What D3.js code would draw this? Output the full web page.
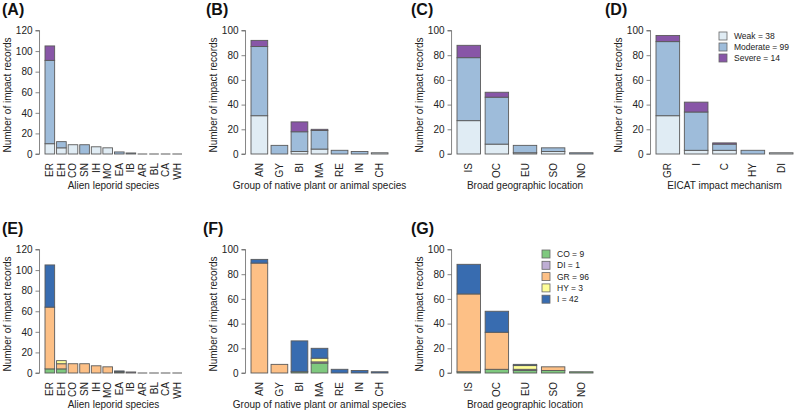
<!DOCTYPE html>
<html><head><meta charset="utf-8">
<script src="https://cdn.jsdelivr.net/npm/d3@7"></script>
<style>
body{margin:0;background:#fff;}
svg{display:block;font-family:"Liberation Sans",Arial,Helvetica,sans-serif;}
</style></head><body>
<svg id="chart" width="795" height="413"></svg>
<script>
// ---- data ----
const sevKeys = ["Weak","Moderate","Severe"];
const sevTotals = [38, 99, 14];
const mechKeys = ["CO","DI","GR","HY","I"];
const mechTotals = [9, 1, 96, 3, 42];

const speciesCats = ["ER","EH","CO","SN","IH","MO","EA","IB","AR","BL","CA","WH"];
const speciesWeak     = [10,6,9,0,7,6,0,0,0,0,0,0];
const speciesModerate = [81,6,0,9,0,0,2,1,0,0,0,0];
const speciesSevere   = [14,0,0,0,0,0,0,0,0,0,0,0];
const speciesCO = [4,4,0,0,0,0,1,0,0,0,0,0];
const speciesDI = [0,0,0,0,0,0,0,1,0,0,0,0];
const speciesGR = [60,5,9,9,7,6,0,0,0,0,0,0];
const speciesHY = [0,3,0,0,0,0,0,0,0,0,0,0];
const speciesI  = [41,0,0,0,0,0,1,0,0,0,0,0];

const groupCats = ["AN","GY","BI","MA","RE","IN","CH"];
const groupWeak     = [31,0,2,4,0,0,1];
const groupModerate = [56,7,16,15,3,2,0];
const groupSevere   = [5,0,8,1,0,0,0];
const groupCO = [0,0,1,8,0,0,0];
const groupDI = [0,0,0,1,0,0,0];
const groupGR = [89,7,0,0,0,0,0];
const groupHY = [0,0,0,3,0,0,0];
const groupI  = [3,0,25,8,3,2,1];

const locCats = ["IS","OC","EU","SO","NO"];
const locWeak     = [27,8,1,2,0];
const locModerate = [51,38,6,3,1];
const locSevere   = [10,4,0,0,0];
const locCO = [1,3,2,2,1];
const locDI = [0,0,1,0,0];
const locGR = [63,30,0,3,0];
const locHY = [0,0,3,0,0];
const locI  = [24,17,1,0,0];

const mechCats = ["GR","I","C","HY","DI"];
const mechWeak     = [31,3,3,0,1];
const mechModerate = [60,31,5,3,0];
const mechSevere   = [5,8,1,0,0];

// ---- styles ----
const sevColors = ["#e0ecf4","#9ebcda","#8856a7"];
const mechColors = ["#7fc97f","#beaed4","#fdc086","#ffff99","#386cb0"];

const svg = d3.select("#chart");

function panel(o){
  const keys = o.keys;
  const rows = o.cats.map((c,i)=>{const r={cat:c}; keys.forEach((k,j)=>r[k]=o.series[j][i]); return r;});
  const x = d3.scaleBand().domain(o.cats).range([o.x0,o.x1]).paddingInner(0.2/1.2).paddingOuter(0);
  const y = d3.scaleLinear().domain([0,o.ymax]).range([o.y0,o.y0-123.5]);
  const axisX = o.x0 - 0.04*(o.x1-o.x0);
  const g = svg.append("g");
  const stack = d3.stack().keys(keys)(rows);
  stack.forEach((layer,li)=>{
    g.selectAll(null).data(layer.filter(d=>d[1]>d[0])).join("rect")
      .attr("x",d=>x(d.data.cat)).attr("width",x.bandwidth())
      .attr("y",d=>y(d[1])).attr("height",d=>y(d[0])-y(d[1]))
      .attr("fill",o.colors[li]).attr("stroke","#5a5a5a").attr("stroke-width",0.9);
  });
  // zero bars drawn as a line
  g.selectAll(null).data(rows.filter(r=>d3.sum(keys,k=>r[k])===0)).join("line")
    .attr("x1",d=>x(d.cat)).attr("x2",d=>x(d.cat)+x.bandwidth())
    .attr("y1",y(0)).attr("y2",y(0)).attr("stroke","#777").attr("stroke-width",1.2);
  // y axis
  const ya = g.append("g").attr("transform",`translate(${axisX},0)`)
    .call(d3.axisLeft(y).tickValues(d3.range(0,o.ymax+1,20)).tickSize(4).tickPadding(3));
  ya.select(".domain").attr("stroke","#666").attr("d",`M-4,${y(0)}H0V${y(o.ymax)}H-4`).attr("stroke-width",0.8);
  ya.selectAll(".tick line").attr("stroke","#666").attr("stroke-width",0.8);
  ya.selectAll("text").attr("font-size",10).attr("fill","#222").attr("font-family","Liberation Sans, Arial, sans-serif");
  // x labels
  g.selectAll(null).data(o.cats).join("text")
    .attr("transform",d=>`translate(${x(d)+x.bandwidth()/2+3.5},${o.y0+9}) rotate(-90)`)
    .attr("text-anchor","end").attr("font-size",10).attr("fill","#222").text(d=>d);
  // titles
  g.append("text").attr("x",(o.x0+o.x1)/2).attr("y",o.y0+35).attr("text-anchor","middle")
    .attr("font-size",10).attr("fill","#222").text(o.xtitle);
  g.append("text").attr("transform",`translate(${axisX-29},${o.y0-59}) rotate(-90)`)
    .attr("text-anchor","middle").attr("font-size",10).attr("fill","#222").text("Number of impact records");
  g.append("text").attr("x",o.lx).attr("y",o.y0-139).attr("font-size",16).attr("font-weight","bold")
    .attr("fill","#111").text(o.label);
  if(o.legend){
    const lg = g.append("g");
    o.legend.labels.forEach((t,i)=>{
      const cy = o.legend.y + i*o.legend.dy;
      lg.append("rect").attr("x",o.legend.x).attr("y",cy-4).attr("width",8).attr("height",8)
        .attr("fill",o.colors[i]).attr("stroke","#666").attr("stroke-width",0.8);
      lg.append("text").attr("x",o.legend.x+15).attr("y",cy).attr("dominant-baseline","central")
        .attr("font-size",8.5).attr("fill","#222").text(t);
    });
  }
}

const sevLegend = sevKeys.map((k,i)=>`${k} = ${sevTotals[i]}`);
const mechLegend = mechKeys.map((k,i)=>`${k} = ${mechTotals[i]}`);

panel({label:"(A)",lx:2,cats:speciesCats,keys:sevKeys,series:[speciesWeak,speciesModerate,speciesSevere],colors:sevColors,x0:45,x1:182,y0:154,ymax:120,xtitle:"Alien leporid species"});
panel({label:"(B)",lx:206,cats:groupCats,keys:sevKeys,series:[groupWeak,groupModerate,groupSevere],colors:sevColors,x0:251,x1:388,y0:154,ymax:100,xtitle:"Group of native plant or animal species"});
panel({label:"(C)",lx:411,cats:locCats,keys:sevKeys,series:[locWeak,locModerate,locSevere],colors:sevColors,x0:457,x1:593,y0:154,ymax:100,xtitle:"Broad geographic location"});
panel({label:"(D)",lx:605,cats:mechCats,keys:sevKeys,series:[mechWeak,mechModerate,mechSevere],colors:sevColors,x0:656,x1:793,y0:154,ymax:100,xtitle:"EICAT impact mechanism",legend:{x:719,y:36,dy:11,labels:sevLegend}});

panel({label:"(E)",lx:2,cats:speciesCats,keys:mechKeys,series:[speciesCO,speciesDI,speciesGR,speciesHY,speciesI],colors:mechColors,x0:45,x1:182,y0:373,ymax:120,xtitle:"Alien leporid species"});
panel({label:"(F)",lx:203,cats:groupCats,keys:mechKeys,series:[groupCO,groupDI,groupGR,groupHY,groupI],colors:mechColors,x0:251,x1:388,y0:373,ymax:100,xtitle:"Group of native plant or animal species"});
panel({label:"(G)",lx:411,cats:locCats,keys:mechKeys,series:[locCO,locDI,locGR,locHY,locI],colors:mechColors,x0:457,x1:593,y0:373,ymax:100,xtitle:"Broad geographic location",legend:{x:542,y:254,dy:11.3,labels:mechLegend}});
</script>
</body></html>
